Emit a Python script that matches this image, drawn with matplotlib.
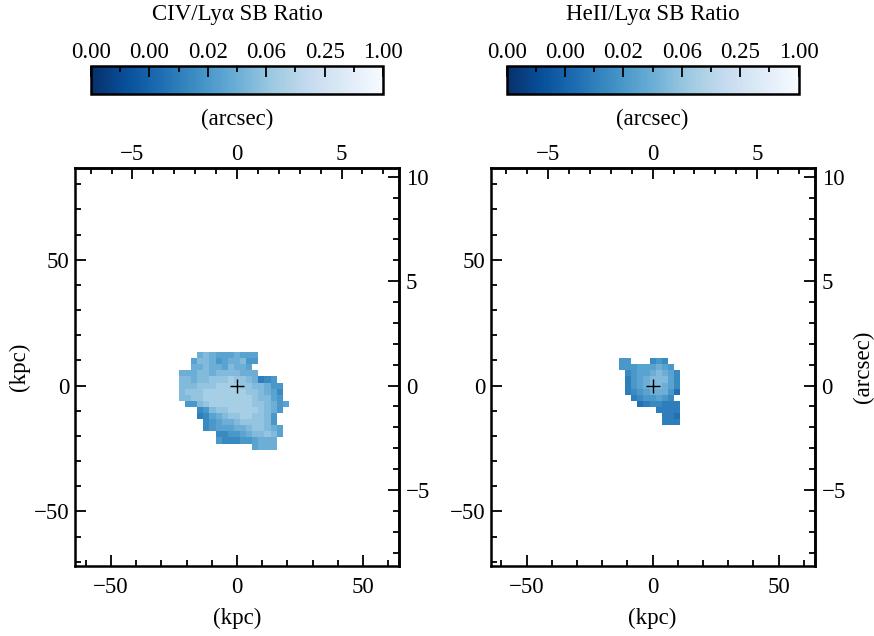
import numpy as np
import matplotlib
matplotlib.use("Agg")
import matplotlib.pyplot as plt
from matplotlib.colors import LogNorm
from matplotlib.ticker import MultipleLocator, FixedLocator, NullFormatter

plt.rcParams['font.family'] = ['Liberation Serif', 'DejaVu Serif']
plt.rcParams['font.size'] = 16.5

# ratio for each level digit used in the pixel maps below
level_ratio = [0.0056, 0.0079, 0.011, 0.016, 0.022, 0.032, 0.045, 0.063, 0.089, 0.126]

# CIV/Lya map: one string per row (top row first), '.' = no data
civ_rows = [
    "...5654445444.....",
    "..46653455633.....",
    "..5565546554......",
    "5556656666555.....",
    "6656677787765123..",
    "66677788887766533.",
    "67778888888776542.",
    "66778888888876643.",
    ".33678888888776534",
    "...23677888887653.",
    "...1245677887763..",
    "....234556777763..",
    "....2344455677654.",
    "......22334566764.",
    "......3222334555..",
    "............4555..",
]
civ_col0, civ_row0 = -9, 5

# HeII/Lya map
heii_rows = [
    "33...232..",
    "333444543.",
    ".234456542",
    ".134566642",
    ".134566542",
    ".123455530",
    "..1233432.",
    "...0122111",
    "......1111",
    ".......110",
    ".......111",
]
heii_col0, heii_row0 = -5, 4

titles = ['CIV/Ly\u03b1 SB Ratio', 'HeII/Ly\u03b1 SB Ratio']
cbar_ticks = 10 ** np.linspace(-3, 0, 6)
cbar_minor = 10 ** np.linspace(-2.7, -0.3, 5)
top_ticks = [-5, 0, 5]
right_ticks = [-5, 0, 5, 10]

pix = 2.425          # kpc per pixel
kpc_per_arcsec = 8.3


def to_map(rows):
    return np.ma.masked_invalid(np.array(
        [[np.nan if c == '.' else level_ratio[int(c)] for c in r] for r in rows]))


def kpc2as(x):
    return x / kpc_per_arcsec


def as2kpc(a):
    return a * kpc_per_arcsec


fig = plt.figure(figsize=(8.74, 6.36), dpi=100)
norm = LogNorm(vmin=1e-3, vmax=1.0)
lw = 1.8

maps = [(civ_rows, civ_col0, civ_row0), (heii_rows, heii_col0, heii_row0)]
ax_x0 = [0.0858, 0.5614]
cb_x0 = [0.1041, 0.5797]

for i, (rows, col0, row0) in enumerate(maps):
    data = to_map(rows)
    nrow, ncol = data.shape
    xe = (col0 - 0.5 + np.arange(ncol + 1)) * pix
    ye = (row0 + 0.5 - np.arange(nrow + 1)) * pix

    ax = fig.add_axes([ax_x0[i], 0.1101, 0.3707, 0.6258])
    mesh = ax.pcolormesh(xe, ye, data, cmap='Blues_r', norm=norm,
                         shading='flat', antialiased=False, linewidth=0)
    ax.plot(0, 0, '+', color='k', ms=10, mew=1.0)
    ax.set_xlim(-64.3, 64.3)
    ax.set_ylim(-71.7, 86.5)
    ax.xaxis.set_major_locator(MultipleLocator(50))
    ax.xaxis.set_minor_locator(MultipleLocator(10))
    ax.yaxis.set_major_locator(MultipleLocator(50))
    ax.yaxis.set_minor_locator(MultipleLocator(10))
    ax.tick_params(which='both', direction='in', top=False, right=False, width=1.3)
    ax.tick_params(which='major', length=8)
    ax.tick_params(which='minor', length=4)
    ax.tick_params(axis='x', which='major', pad=8)
    ax.tick_params(axis='y', which='major', pad=4)
    ax.set_xlabel('(kpc)', labelpad=7)
    if i == 0:
        ax.set_ylabel('(kpc)', labelpad=3)
    for s in ax.spines.values():
        s.set_linewidth(lw)

    secx = ax.secondary_xaxis('top', functions=(kpc2as, as2kpc))
    secx.xaxis.set_major_locator(FixedLocator(top_ticks))
    secx.xaxis.set_minor_locator(FixedLocator(np.arange(-7, 8)))
    secx.tick_params(which='both', direction='in', width=1.3)
    secx.tick_params(which='major', length=8, pad=2)
    secx.tick_params(which='minor', length=4)
    secx.set_xlabel('(arcsec)', labelpad=14)
    secx.spines['top'].set_linewidth(lw)

    secy = ax.secondary_yaxis('right', functions=(kpc2as, as2kpc))
    secy.yaxis.set_major_locator(FixedLocator(right_ticks))
    secy.yaxis.set_minor_locator(FixedLocator(np.arange(-8, 11)))
    secy.tick_params(which='both', direction='in', width=1.3)
    secy.tick_params(which='major', length=8, pad=5)
    secy.tick_params(which='minor', length=4)
    secy.spines['right'].set_linewidth(lw)
    if i == 1:
        secy.set_ylabel('(arcsec)', labelpad=5)

    cax = fig.add_axes([cb_x0[i], 0.8522, 0.3341, 0.044])
    cb = fig.colorbar(mesh, cax=cax, orientation='horizontal')
    cax.xaxis.set_ticks_position('top')
    cax.xaxis.set_major_locator(FixedLocator(cbar_ticks))
    cax.xaxis.set_major_formatter(plt.FixedFormatter(['%.2f' % t for t in cbar_ticks]))
    cax.xaxis.set_minor_locator(FixedLocator(cbar_minor))
    cax.xaxis.set_minor_formatter(NullFormatter())
    cax.tick_params(which='both', direction='in', width=1.3, top=True, bottom=False)
    cax.tick_params(which='major', length=8, pad=2)
    cax.tick_params(which='minor', length=4)
    cb.outline.set_linewidth(lw)
    cax.set_title(titles[i], pad=16, fontsize=16.5)

fig.savefig('out.png', dpi=100)
